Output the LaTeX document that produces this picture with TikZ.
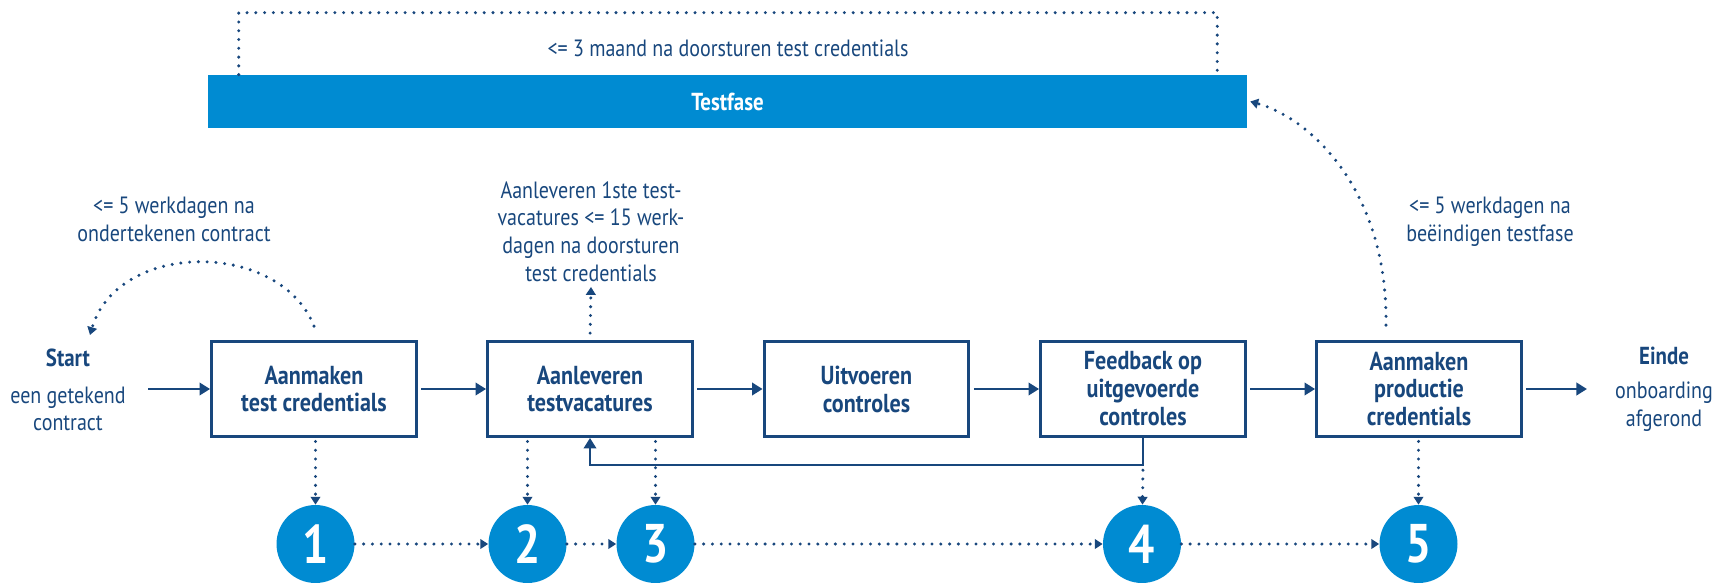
\documentclass[tikz,border=0pt]{standalone}
\usepackage{fontspec}
\setmainfont{PT Sans}[FakeStretch=0.85]
\usetikzlibrary{arrows.meta,positioning,calc}
\definecolor{vo-navy}{HTML}{18477D}
\definecolor{vo-blue}{HTML}{008BD2}
\tikzset{
    step-box/.style = {draw=vo-navy, line width=1.9pt, rectangle, minimum width=4.09cm, minimum height=1.89cm, inner sep=2pt, align=center, text=vo-navy, font=\fontsize{14.8pt}{15.9pt}\selectfont\bfseries},
    phase-bar/.style = {fill=vo-blue, rectangle, minimum width=20.78cm, minimum height=1.06cm, inner sep=0pt, text=white, font=\fontsize{14pt}{16pt}\selectfont\bfseries},
    num-circle/.style = {circle, fill=vo-blue, minimum size=1.56cm, inner sep=0pt, text=white, font=\fontsize{31pt}{31pt}\selectfont\bfseries},
    note-text/.style = {text=vo-navy, align=center, inner sep=2pt, font=\fontsize{13.4pt}{15.7pt}\selectfont},
    note-title/.style = {text=vo-navy, inner sep=2pt, font=\fontsize{14pt}{16pt}\selectfont\bfseries},
    flow-arrow/.style = {draw=vo-navy, line width=1.5pt, -{Triangle[length=6pt,width=7pt]}},
    dot-line/.style = {draw=vo-navy, line width=1.9pt, line cap=round, dash pattern=on 0pt off 5pt},
    dot-arrow/.style = {dot-line, -{Triangle[length=4.5pt,width=5.5pt]}},
}

\begin{document}
\begin{tikzpicture}[x=0.02cm, y=-0.02cm]
\useasboundingbox (0,0) rectangle (1718,582);

% testfase
\node[phase-bar] (bar) at (727.5,101.5) {Testfase};
\node[note-text] (note-test) at (728,48) {<= 3 maand na doorsturen test credentials};
\draw[dot-line] ($(bar.north west)+(31,0)$) |- ($(bar.north east)+(-30,-62)$) -- ($(bar.north east)+(-30,0)$);

% steps
\node[step-box] (box1) at (314,389) {Aanmaken\\test credentials};
\node[step-box] (box2) at (590,389) {Aanleveren\\testvacatures};
\node[step-box] (box3) at (866.5,389) {Uitvoeren\\controles};
\node[step-box] (box4) at (1143,389) {Feedback op\\uitgevoerde\\controles};
\node[step-box] (box5) at (1419,389) {Aanmaken\\productie\\credentials};

% start and end
\node[note-title] (start-title) at (68,358) {Start};
\node[note-text] (start-text) at (68,409) {een getekend\\contract};
\node[note-title] (end-title) at (1664,356) {Einde};
\node[note-text] (end-text) at (1664,406.5) {onboarding\\afgerond};
\coordinate (start-in) at (148,389);
\coordinate (end-out) at (1587,389);
\coordinate (start-tip) at (90,335);

% notes
\node[note-text] (note-sign) at (174,219.5) {<= 5 werkdagen na\\ondertekenen contract};
\node[note-text, anchor=south, inner sep=3pt] (note-upload) at (591,287) {Aanleveren 1ste test-\\vacatures <= 15 werk-\\dagen na doorsturen\\test credentials};
\node[note-text] (note-prod) at (1490,222) {<= 5 werkdagen na\\beëindigen testfase};

% numbers
\node[num-circle] (n1) at (315.5,544) {1};
\node[num-circle] (n2) at (527.5,544) {2};
\node[num-circle] (n3) at (655.5,544) {3};
\node[num-circle] (n4) at (1142,544) {4};
\node[num-circle] (n5) at (1418.5,544) {5};

% main flow
\draw[flow-arrow] (start-in) -- (box1);
\draw[flow-arrow, shorten <=2pt] (box1) -- (box2);
\draw[flow-arrow, shorten <=2pt] (box2) -- (box3);
\draw[flow-arrow, shorten <=2pt] (box3) -- (box4);
\draw[flow-arrow, shorten <=2pt] (box4) -- (box5);
\draw[flow-arrow, shorten <=2pt] (box5) -- (end-out);
\draw[flow-arrow] (box4.south) -- ++(0,27) coordinate (fb-corner) -| (box2.south);

% deadlines
\draw[dot-arrow] ($(box1.north)+(0,-14)$) .. controls (280,240) and (118,240) .. (start-tip);
\draw[dot-arrow, shorten <=4pt] (box2.north) -- (note-upload.south);
\draw[dot-arrow] ($(box5.north)+(-33,-15)$) .. controls (1388,190) and (1310,118) .. ($(bar.east)+(3,0)$);

% numbered milestones
\draw[dot-arrow, shorten <=2pt] (n1 |- box1.south) -- (n1);
\draw[dot-arrow, shorten <=2pt] (n2 |- box2.south) -- (n2);
\draw[dot-arrow, shorten <=2pt] (n3 |- box2.south) -- (n3);
\draw[dot-arrow, shorten <=3pt] (fb-corner) -- (n4);
\draw[dot-arrow, shorten <=2pt] (n5 |- box5.south) -- (n5);
\draw[dot-arrow] (n1) -- (n2);
\draw[dot-arrow] (n2) -- (n3);
\draw[dot-arrow] (n3) -- (n4);
\draw[dot-arrow] (n4) -- (n5);
\end{tikzpicture}
\end{document}
